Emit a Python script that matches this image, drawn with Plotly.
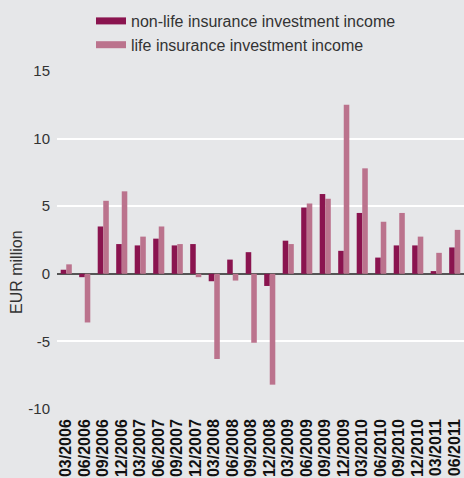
import plotly.graph_objects as go

categories = ["03/2006", "06/2006", "09/2006", "12/2006", "03/2007", "06/2007",
              "09/2007", "12/2007", "03/2008", "06/2008", "09/2008", "12/2008",
              "03/2009", "06/2009", "09/2009", "12/2009", "03/2010", "06/2010",
              "09/2010", "12/2010", "03/2011", "06/2011"]
non_life = [0.3, -0.25, 3.5, 2.2, 2.1, 2.6, 2.1, 2.2, -0.55, 1.05, 1.6, -0.9,
            2.45, 4.9, 5.9, 1.7, 4.5, 1.2, 2.1, 2.1, 0.2, 1.95]
life = [0.7, -3.6, 5.4, 6.1, 2.75, 3.5, 2.2, -0.25, -6.3, -0.5, -5.1, -8.2,
        2.2, 5.2, 5.55, 12.5, 7.8, 3.85, 4.5, 2.75, 1.55, 3.25]
y_ticks = [-10, -5, 0, 5, 10, 15]
y_tick_text = ["-10", "-5", "0", "5", "10", "15"]

c_nonlife = "#8a144f"
c_life = "#bb738d"
bg = "#e6e7e9"
FONT = "Liberation Sans, Arial, Helvetica, sans-serif"

fig = go.Figure()
fig.add_trace(go.Bar(x=categories, y=non_life, marker_color=c_nonlife,
                     marker_line_width=0, showlegend=False,
                     name="non-life insurance investment income"))
fig.add_trace(go.Bar(x=categories, y=life, marker_color=c_life,
                     marker_line_width=0, showlegend=False,
                     name="life insurance investment income"))
fig.add_trace(go.Scatter(x=[None], y=[None], mode="lines",
                         line=dict(color=c_nonlife, width=7),
                         name="non-life insurance investment income"))
fig.add_trace(go.Scatter(x=[None], y=[None], mode="lines",
                         line=dict(color=c_life, width=7),
                         name="life insurance investment income"))

fig.update_layout(
    width=464, height=478,
    margin=dict(l=57, r=0, t=71, b=69, autoexpand=False),
    paper_bgcolor=bg, plot_bgcolor=bg,
    barmode="group", bargap=0.4, bargroupgap=0,
    font=dict(family=FONT, size=15, color="#333333"),
    legend=dict(x=(91 - 57) / 407, y=1 + (71 - 4) / 338, xanchor="left", yanchor="top",
                bgcolor="rgba(0,0,0,0)", font=dict(size=16, color="#333333"),
                tracegroupgap=0, borderwidth=0),
    xaxis=dict(type="category", tickangle=-90, showgrid=False,
               tickmode="array", tickvals=categories, ticktext=categories,
               tickfont=dict(size=16, color="#111111", family=FONT, weight="bold"),
               ticks="", showline=False, ticklabelstandoff=6),
    yaxis=dict(range=[-10, 15], tickvals=y_ticks, ticktext=y_tick_text, showgrid=True,
               gridcolor="#ffffff", gridwidth=2,
               zeroline=True, zerolinecolor="#555555", zerolinewidth=2,
               ticks="", ticklabelstandoff=6, showline=False,
               tickfont=dict(size=15, color="#333333")),
    annotations=[dict(text="EUR million", xref="paper", yref="paper",
                      x=(16 - 57) / 407, y=1 - (272 - 71) / 338,
                      xanchor="center", yanchor="middle", textangle=-90,
                      showarrow=False, font=dict(size=16, color="#333333"))],
)
fig.write_html("out.html",
               config=dict(displayModeBar=False),
               post_script="document.body.style.margin='0';"
                           "document.body.style.background='#e6e7e9';")
